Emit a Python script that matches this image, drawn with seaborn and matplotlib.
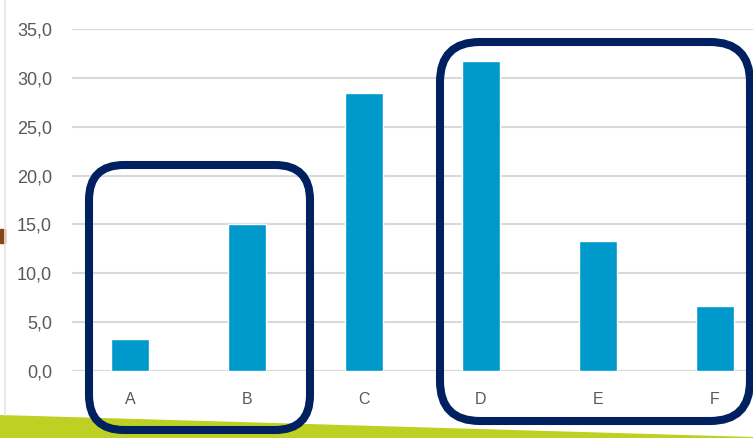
import numpy as np
import pandas as pd
import matplotlib.pyplot as plt
import seaborn as sns
from matplotlib.patches import FancyBboxPatch, Polygon, Rectangle

categories = ['A', 'B', 'C', 'D', 'E', 'F']
values = [3.3, 15.0, 28.4, 31.7, 13.3, 6.7]
y_ticks = [0, 5, 10, 15, 20, 25, 30, 35]

df = pd.DataFrame({'category': categories, 'value': values})

sns.set_theme(style='white')
plt.rcParams['font.family'] = ['Liberation Sans', 'DejaVu Sans']

W, H = 753, 438
fig = plt.figure(figsize=(W / 100, H / 100), dpi=100)
fig.patch.set_facecolor('white')

# main chart axes (runs past the right edge like the cropped original)
ax = fig.add_axes([71.5 / W, 67 / H, 702 / W, 342 / H])
sns.barplot(data=df, x='category', y='value', color='#0099cc', width=0.33,
            saturation=1, ax=ax, zorder=3)
ax.set_xlim(-0.5, 5.5)
ax.set_ylim(0, 35)
ax.set_yticks(y_ticks)
ax.set_yticklabels([f'{t:.1f}'.replace('.', ',') for t in y_ticks])
ax.yaxis.grid(True, color='#d9d9d9', linewidth=1.5, zorder=0)
ax.set_axisbelow(True)
for s in ax.spines.values():
    s.set_visible(False)
ax.tick_params(axis='y', length=0, pad=14, labelsize=13, labelcolor='#595959')
ax.tick_params(axis='x', length=0, pad=15, labelsize=11.5, labelcolor='#595959')
ax.set_xlabel('')
ax.set_ylabel('')

# overlay in pixel coordinates for the slide decorations
ov = fig.add_axes([0, 0, 1, 1], zorder=10)
ov.set_xlim(0, W)
ov.set_ylim(H, 0)
ov.axis('off')
ov.patch.set_alpha(0)

ov.plot([5, 5], [0, 415], color='#e6e6e6', linewidth=1.2)
ov.add_patch(Rectangle((0, 229), 5, 14, color='#8b4513'))
ov.add_patch(Polygon([(0, 415), (W, 437), (W, H), (0, H)], closed=True,
                     color='#bdd023', linewidth=0))

navy = '#002060'
ov.add_patch(FancyBboxPatch((89, 165), 221, 265,
                            boxstyle='round,pad=0,rounding_size=35',
                            fill=False, edgecolor=navy, linewidth=5.8))
ov.add_patch(FancyBboxPatch((440, 42), 310, 379,
                            boxstyle='round,pad=0,rounding_size=40',
                            fill=False, edgecolor=navy, linewidth=5.8))

fig.savefig('out.png', dpi=100)
